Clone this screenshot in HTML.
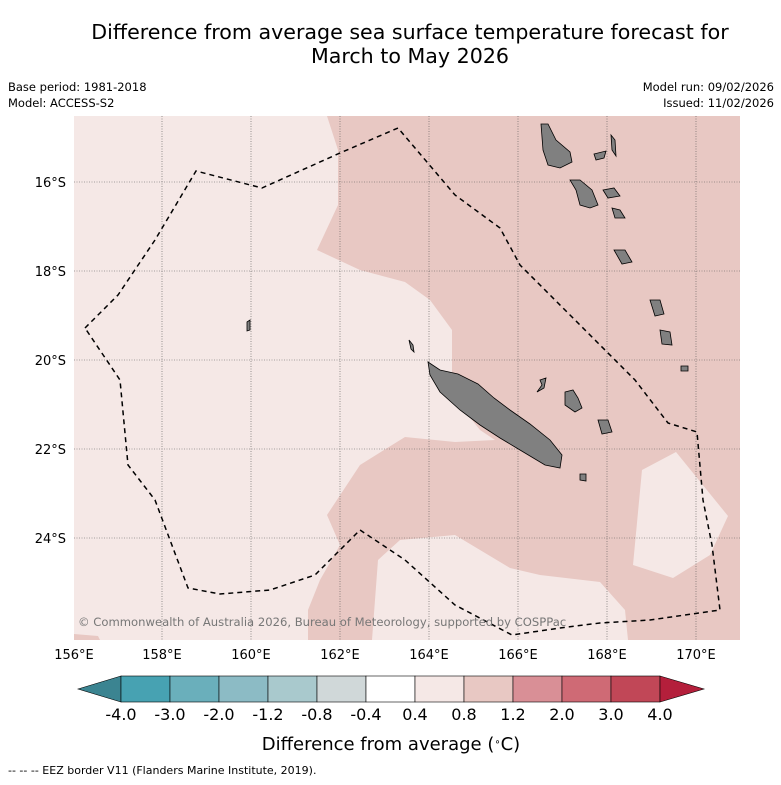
<!DOCTYPE html>
<html><head><meta charset="utf-8"><style>
body{margin:0;background:#fff;width:781px;height:781px;overflow:hidden;font-family:"DejaVu Sans",sans-serif}
</style></head><body>
<svg width="781" height="781" viewBox="0 0 781 781" font-family="DejaVu Sans, sans-serif">
<text x="410" y="39" font-size="20.6" text-anchor="middle">Difference from average sea surface temperature forecast for</text>
<text x="410" y="63" font-size="20.6" text-anchor="middle">March to May 2026</text>
<text x="8" y="91" font-size="11.5">Base period: 1981-2018</text>
<text x="8" y="107" font-size="11.5">Model: ACCESS-S2</text>
<text x="774" y="91" font-size="11.5" text-anchor="end">Model run: 09/02/2026</text>
<text x="774" y="107" font-size="11.5" text-anchor="end">Issued: 11/02/2026</text>
<defs><clipPath id="mc"><rect x="74" y="116" width="666" height="524"/></clipPath></defs>
<g clip-path="url(#mc)">
<rect x="74" y="116" width="666" height="524" fill="#f5e8e6"/>
<polygon fill="#e8c8c3" points="327,116 740,116 740,640 628,640 625,610 600,582 540,575 510,568 455,535 400,540 378,560 372,640 308,640 308,610 320,580 340,545 327,515 360,465 405,437 455,442 495,440 480,430 452,395 452,330 430,300 405,282 360,270 317,250 338,205 338,150"/>
<polygon fill="#f5e8e6" points="633,565 642,470 676,452 728,516 710,555 673,578"/>
<polygon fill="#e8c8c3" points="74,634 98,636 100,640 74,640"/>
<g stroke="#555" stroke-width="0.6" stroke-dasharray="1,1.5">
<line x1="162" y1="116" x2="162" y2="640"/><line x1="251" y1="116" x2="251" y2="640"/><line x1="340" y1="116" x2="340" y2="640"/><line x1="429" y1="116" x2="429" y2="640"/><line x1="518" y1="116" x2="518" y2="640"/><line x1="607" y1="116" x2="607" y2="640"/><line x1="696" y1="116" x2="696" y2="640"/>
<line x1="74" y1="182" x2="740" y2="182"/><line x1="74" y1="271" x2="740" y2="271"/><line x1="74" y1="360" x2="740" y2="360"/><line x1="74" y1="449" x2="740" y2="449"/><line x1="74" y1="538" x2="740" y2="538"/>
</g>
<g fill="#808080" stroke="#000" stroke-width="0.8">
<polygon points="428,362 440,370 458,374 478,384 494,398 510,410 530,424 550,440 562,455 560,468 545,465 520,450 500,438 480,425 460,410 440,392 430,375"/>
<polygon points="409,340 413,345 414,352 411,349"/>
<polygon points="540,380 546,378 544,388 537,392 542,385"/>
<polygon points="565,392 573,390 578,398 582,408 575,412 565,405"/>
<polygon points="598,420 608,420 612,432 602,434"/>
<polygon points="580,474 586,474 586,481 580,480"/>
<polygon points="541,124 548,124 556,140 570,152 572,162 560,168 548,165 543,150"/>
<polygon points="570,180 580,180 592,190 598,205 590,208 580,205 576,190"/>
<polygon points="594,154 606,151 604,158 596,160"/>
<polygon points="603,190 614,188 620,196 608,198"/>
<polygon points="611,135 615,140 616,156 612,150"/>
<polygon points="612,208 620,210 625,218 615,218"/>
<polygon points="614,250 625,250 632,262 622,264"/>
<polygon points="650,300 660,300 664,314 655,316"/>
<polygon points="660,330 670,332 672,345 662,344"/>
<polygon points="681,366 688,366 688,371 681,371"/>
<polygon points="247,322 250,320 250,330 247,331"/>
</g>
<polyline fill="none" stroke="#000" stroke-width="1.5" stroke-dasharray="5,4" points="85,328 118,295 155,240 196,171 262,188 340,153 398,128 455,195 500,228 520,265 570,315 600,345 635,380 668,423 697,432 703,500 712,545 720,610 650,620 600,623 560,628 512,635 455,605 405,560 360,530 315,575 270,590 220,594 188,588 155,500 128,465 120,380 85,328"/>
<text x="78" y="626" font-size="11.6" fill="#777">© Commonwealth of Australia 2026, Bureau of Meteorology, supported by COSPPac</text>
</g>
<g font-size="13">
<text x="66" y="187" text-anchor="end">16°S</text><text x="66" y="276" text-anchor="end">18°S</text><text x="66" y="365" text-anchor="end">20°S</text><text x="66" y="454" text-anchor="end">22°S</text><text x="66" y="543" text-anchor="end">24°S</text>
</g>
<g font-size="13" text-anchor="middle">
<text x="74" y="659">156°E</text><text x="162" y="659">158°E</text><text x="251" y="659">160°E</text><text x="340" y="659">162°E</text><text x="429" y="659">164°E</text><text x="518" y="659">166°E</text><text x="607" y="659">168°E</text><text x="696" y="659">170°E</text>
</g>
<g id="cbar"></g>
<text x="391" y="750" font-size="18" text-anchor="middle">Difference from average (<tspan baseline-shift="super" font-size="10">∘</tspan>C)</text>
<text x="8" y="774" font-size="11">--  --  -- EEZ border V11 (Flanders Marine Institute, 2019).</text>
</svg>
<script>
const levels=["-4.0","-3.0","-2.0","-1.2","-0.8","-0.4","0.4","0.8","1.2","2.0","3.0","4.0"];
const colors=["#47a2b2","#6aafbb","#8cbbc5","#a9c9cd","#d0d8d9","#ffffff","#f5e8e6","#e8c8c3","#d98f96","#cf6a75","#c14757"];
const extLow="#3b8491",extHigh="#b41f3b";
const g=document.getElementById('cbar');const ns="http://www.w3.org/2000/svg";
const x0=121,w=49,y0=676,h=26;
function mk(t,a){const e=document.createElementNS(ns,t);for(const k in a)e.setAttribute(k,a[k]);g.appendChild(e);return e;}
let p=mk('polygon',{points:`78,${y0+h/2} ${x0},${y0} ${x0},${y0+h}`,fill:extLow,stroke:'#000','stroke-width':0.6});


colors.forEach((c,i)=>{const r=mk('rect',{x:x0+i*w,y:y0,width:w,height:h,fill:c,stroke:'#000','stroke-width':0.6});

});
const xe=x0+colors.length*w;
p=mk('polygon',{points:`${xe},${y0} ${xe+44},${y0+h/2} ${xe},${y0+h}`,fill:extHigh,stroke:'#000','stroke-width':0.6});


levels.forEach((l,i)=>{const t=mk('text',{x:x0+i*w,y:720,'font-size':16,'text-anchor':'middle'});t.textContent=l;

});
</script>
</body></html>
